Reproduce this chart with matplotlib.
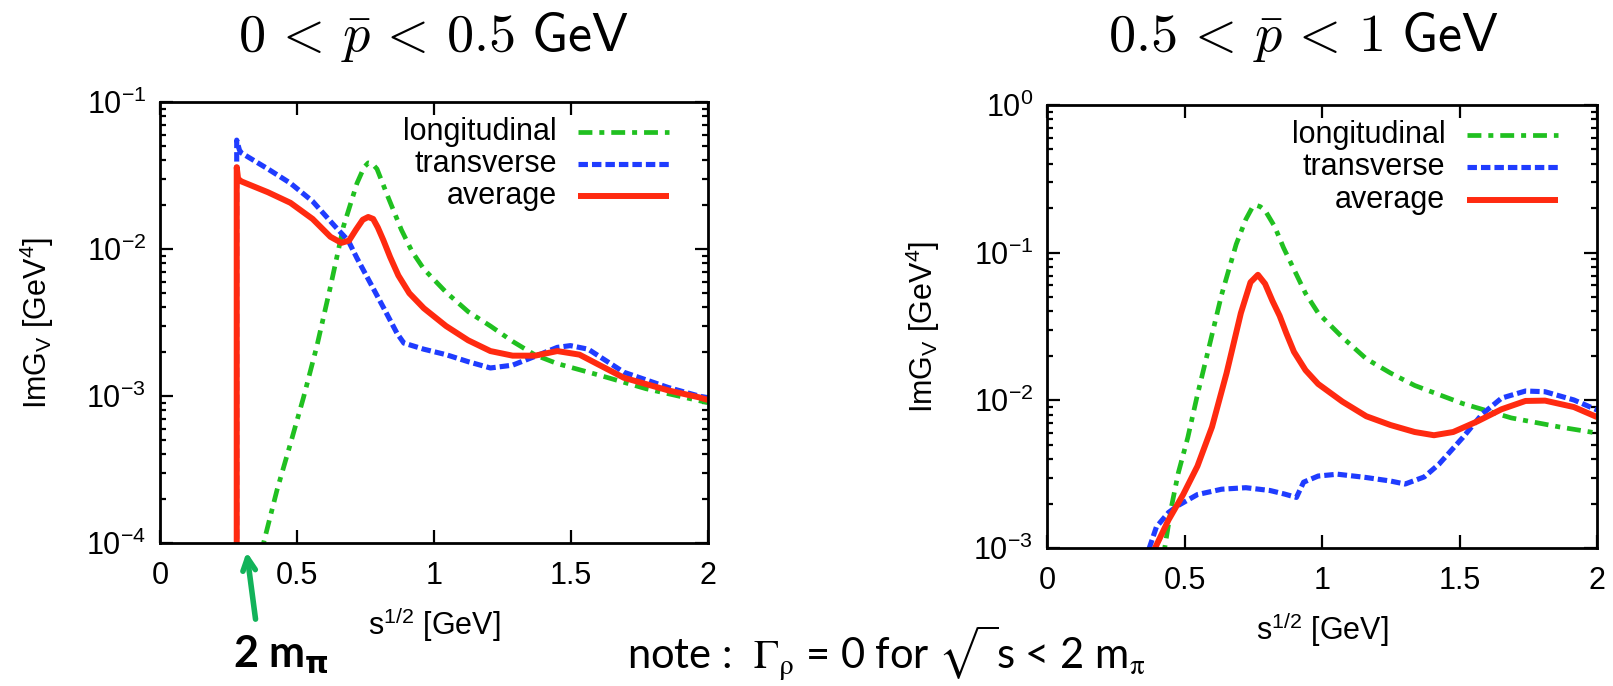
import matplotlib
matplotlib.use('Agg')
import matplotlib.pyplot as plt
from matplotlib.ticker import LogLocator, NullFormatter, NullLocator, FixedLocator, FixedFormatter

plt.rcParams['font.family'] = 'Liberation Sans'
plt.rcParams['axes.unicode_minus'] = False
plt.rcParams['lines.scale_dashes'] = False

m2pi = 0.28  # 2 m_pi threshold [GeV]

# ---- panel 1 : 0 < pbar < 0.5 GeV ----
x_long_1 = [0.36, 0.378, 0.427, 0.476, 0.524, 0.573, 0.622, 0.670, 0.719, 0.745, 0.760,
            0.775, 0.792, 0.833, 0.881, 0.92, 0.963, 1.044, 1.125, 1.206, 1.287, 1.369, 1.450,
            1.612, 1.774, 1.966, 2.0]
y_long_1 = [7e-5, 1.0e-4, 2.29e-4, 4.73e-4, 9.8e-4, 2.2e-3, 5.53e-3, 1.43e-2, 2.8e-2, 3.6e-2,
            3.85e-2, 3.8e-2, 3.5e-2, 2.24e-2, 1.35e-2, 9.6e-3, 7.3e-3, 5.08e-3, 3.74e-3,
            2.99e-3, 2.35e-3, 1.9e-3, 1.66e-3, 1.37e-3, 1.12e-3, 9.3e-4, 9.0e-4]

x_trans_1 = [m2pi, m2pi, 0.29, 0.297, 0.394, 0.476, 0.557, 0.638, 0.687, 0.719, 0.768, 0.817,
             0.865, 0.890, 0.963, 1.044, 1.125, 1.206, 1.287, 1.369, 1.450, 1.498, 1.563,
             1.693, 1.856, 1.966, 2.0]
y_trans_1 = [1e-5, 0.055, 0.047, 0.045, 0.035, 0.028, 0.0211, 0.0143, 0.0114, 0.00865, 0.00585,
             0.00395, 0.00267, 0.00229, 0.00208, 0.00191, 0.00171, 0.00155, 0.00162, 0.00186,
             0.00214, 0.0022, 0.00208, 0.00145, 0.00114, 0.001, 0.00097]

x_avg_1 = [m2pi, m2pi, 0.285, 0.297, 0.394, 0.476, 0.557, 0.622, 0.662, 0.690, 0.715, 0.740,
           0.760, 0.778, 0.795, 0.815, 0.840, 0.870, 0.910, 0.963, 1.044, 1.125, 1.206, 1.287,
           1.369, 1.450, 1.531, 1.693, 1.856, 1.966, 2.0]
y_avg_1 = [1e-5, 0.036, 0.030, 0.0288, 0.0243, 0.0206, 0.016, 0.0121, 0.011, 0.0114, 0.0135,
           0.0158, 0.0165, 0.0160, 0.0140, 0.0115, 0.0088, 0.0066, 0.0050, 0.00395, 0.00299,
           0.00239, 0.00202, 0.00188, 0.00188, 0.00202, 0.00191, 0.00133, 0.00109, 0.00098,
           0.00094]

# ---- panel 2 : 0.5 < pbar < 1 GeV ----
x_long_2 = [0.42, 0.428, 0.451, 0.477, 0.512, 0.547, 0.582, 0.635, 0.688, 0.723, 0.745, 0.758,
            0.775, 0.793, 0.828, 0.860, 0.898, 0.940, 0.986, 1.074, 1.161, 1.249, 1.337, 1.512,
            1.688, 1.863, 2.0]
y_long_2 = [7e-4, 1e-3, 1.84e-3, 3.2e-3, 5.6e-3, 1.09e-2, 2.02e-2, 5.2e-2, 0.114, 0.168, 0.2,
            0.21, 0.205, 0.193, 0.150, 0.108, 0.077, 0.053, 0.039, 0.0267, 0.0191, 0.0153,
            0.0126, 0.0095, 0.0076, 0.0066, 0.006]

x_trans_2 = [0.365, 0.372, 0.398, 0.442, 0.477, 0.547, 0.635, 0.723, 0.811, 0.863, 0.907,
             0.933, 0.986, 1.056, 1.161, 1.249, 1.302, 1.372, 1.425, 1.512, 1.582, 1.653,
             1.740, 1.811, 1.916, 2.0]
y_trans_2 = [8e-4, 1e-3, 1.39e-3, 1.74e-3, 1.94e-3, 2.3e-3, 2.5e-3, 2.56e-3, 2.45e-3, 2.32e-3,
             2.2e-3, 2.79e-3, 3.07e-3, 3.16e-3, 3.0e-3, 2.84e-3, 2.71e-3, 3.03e-3, 3.69e-3,
             5.6e-3, 8.05e-3, 1.035e-2, 1.156e-2, 1.143e-2, 1.005e-2, 8.6e-3]

x_avg_2 = [0.38, 0.393, 0.442, 0.495, 0.547, 0.6, 0.653, 0.705, 0.740, 0.767, 0.793, 0.820,
           0.846, 0.870, 0.898, 0.940, 0.986, 1.074, 1.161, 1.249, 1.337, 1.407, 1.477, 1.565,
           1.653, 1.740, 1.811, 1.916, 2.0]
y_avg_2 = [8e-4, 1e-3, 1.55e-3, 2.3e-3, 3.58e-3, 6.6e-3, 1.53e-2, 3.9e-2, 6.3e-2, 7.08e-2,
           6.15e-2, 4.7e-2, 3.73e-2, 2.85e-2, 2.13e-2, 1.6e-2, 1.29e-2, 9.8e-3, 7.8e-3, 6.8e-3,
           6.1e-3, 5.8e-3, 6.1e-3, 7.2e-3, 8.7e-3, 9.9e-3, 9.95e-3, 9.0e-3, 7.7e-3]

labels = ['longitudinal', 'transverse', 'average']
titles = [r'$0\,<\,\bar{p}\,<\,0.5\ \mathsf{GeV}$', r'$0.5\,<\,\bar{p}\,<\,1\ \mathsf{GeV}$']
ylims = [(1e-4, 1e-1), (1e-3, 1.0)]
x_ticks = [0, 0.5, 1, 1.5, 2]
x_ticklabels = ['0', '0.5', '1', '1.5', '2']

styles = [
    dict(color='#20c020', lw=3.4, ls=(0, (10.0, 5.0, 3.6, 5.0))),
    dict(color='#1f3cff', lw=3.7, ls=(0, (6.8, 2.9))),
    dict(color='#ff2a10', lw=4.3, ls='-'),
]

fig = plt.figure(figsize=(16.13, 6.86), dpi=100)
ax1 = fig.add_axes([0.0992, 0.2085, 0.3397, 0.6429])
ax2 = fig.add_axes([0.6491, 0.2012, 0.3410, 0.6458])

panels = [
    (ax1, [(x_long_1, y_long_1), (x_trans_1, y_trans_1), (x_avg_1, y_avg_1)]),
    (ax2, [(x_long_2, y_long_2), (x_trans_2, y_trans_2), (x_avg_2, y_avg_2)]),
]

for i, (ax, series) in enumerate(panels):
    for (xs, ys), st in zip(series, styles):
        ax.plot(xs, ys, solid_capstyle='butt', dash_capstyle='butt',
                solid_joinstyle='round', **st)
    ax.set_yscale('log')
    ax.set_xlim(0, 2)
    ax.set_ylim(*ylims[i])
    ax.xaxis.set_major_locator(FixedLocator(x_ticks))
    ax.xaxis.set_major_formatter(FixedFormatter(x_ticklabels))
    ax.xaxis.set_minor_locator(NullLocator())
    ax.yaxis.set_major_locator(LogLocator(base=10, numticks=10))
    ax.yaxis.set_minor_locator(LogLocator(base=10, subs=range(2, 10), numticks=20))
    ax.yaxis.set_minor_formatter(NullFormatter())
    ax.tick_params(which='both', direction='in', top=True, right=True, width=1.6,
                   labelsize=22, colors='black')
    ax.tick_params(which='major', length=9.5)
    ax.tick_params(which='minor', length=4.5)
    ax.tick_params(axis='x', pad=13)
    ax.tick_params(axis='y', pad=10)
    for sp in ax.spines.values():
        sp.set_linewidth(2.0)

    ax.set_ylabel(r'ImG$_\mathregular{V}$ [GeV$^\mathregular{4}$]', fontsize=22)
    ax.yaxis.set_label_coords(-0.19, 0.5)
    ax.set_xlabel(r'$\mathregular{s^{1/2}}$ [GeV]', fontsize=22)
    ax.xaxis.set_label_coords(0.5, -0.14)

    # gnuplot-style key: text right-aligned, sample line on the right
    for k, (lab, st) in enumerate(zip(labels, styles)):
        yk = [0.932, 0.860, 0.786][k]
        ax.plot([0.763, 0.929], [yk, yk], transform=ax.transAxes, clip_on=False,
                solid_capstyle='butt', dash_capstyle='butt', **st)
        ax.text(0.724, yk, lab, transform=ax.transAxes, ha='right', va='center',
                fontsize=22)

fig.text(433 / 1613, 0.946, titles[0], ha='center', va='center', fontsize=39,
         math_fontfamily='cm')
fig.text(1303 / 1613, 0.946, titles[1], ha='center', va='center', fontsize=39,
         math_fontfamily='cm')

# threshold arrow and annotations
ax1.annotate('', xy=(m2pi + 0.035, -0.014), xycoords=('data', 'axes fraction'),
             xytext=(m2pi + 0.07, -0.179), textcoords=('data', 'axes fraction'),
             arrowprops=dict(arrowstyle='->,head_length=0.9,head_width=0.45',
                             color='#12b35a', lw=4.0), annotation_clip=False)
fig.text(233 / 1613, 1 - 667 / 686, r'2 m$_{\mathbf{\pi}}$', ha='left', va='baseline',
         fontsize=31, family='Lato', weight='bold', math_fontfamily='dejavusans')
fig.text(627 / 1613, 1 - 668 / 686,
         r'note :  $\Gamma_{\mathrm{\rho}}$ = 0 for $\sqrt{\;}$s < 2 m$_{\mathrm{\pi}}$',
         ha='left', va='baseline', fontsize=30, family='Lato', math_fontfamily='stix')

fig.savefig('out.png', dpi=100)
